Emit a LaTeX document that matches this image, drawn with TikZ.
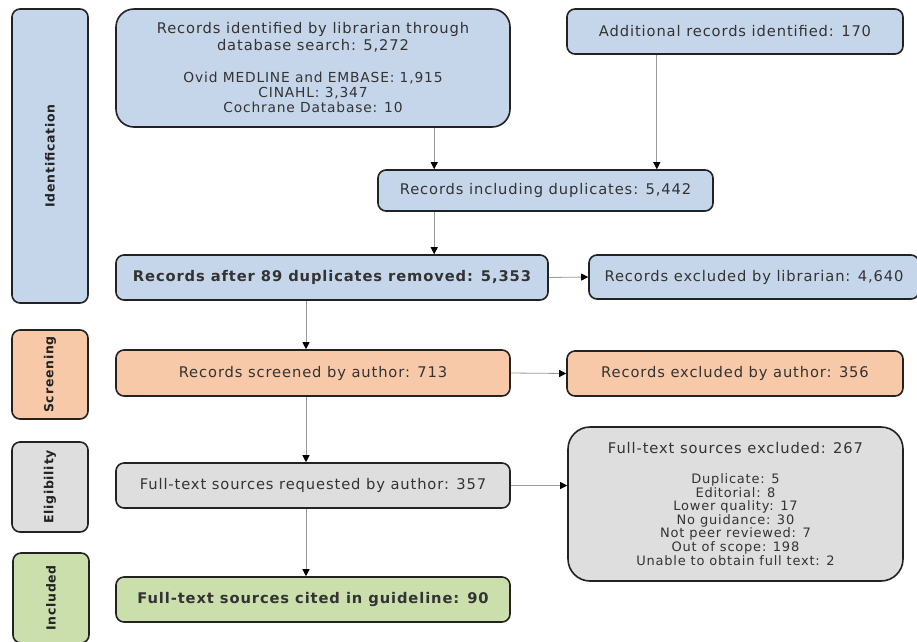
\documentclass[tikz,border=0pt]{standalone}
\usepackage{fontspec}
\setmainfont[LetterSpace=6]{DejaVu Sans}
\usetikzlibrary{arrows.meta}
\definecolor{idblue}{RGB}{198,214,234}
\definecolor{scrorange}{RGB}{248,201,168}
\definecolor{eligray}{RGB}{222,222,222}
\definecolor{incgreen}{RGB}{202,223,172}
\definecolor{boxline}{RGB}{34,34,34}
\definecolor{boxtext}{RGB}{51,51,51}
\newcommand\subline{\fontsize{13.8}{15}\selectfont}
\begin{document}
\begin{tikzpicture}[x=1pt,y=-1pt,
    box/.style={draw=boxline,line width=1.6pt,rounded corners=8pt,align=center,
      text=boxtext,inner sep=0pt,font=\fontsize{14.7}{17}\selectfont},
    phase/.style={box,rotate=90,minimum height=76pt,text=boxline,
      font=\bfseries\fontsize{12.5}{14}\selectfont},
    arr/.style={draw=black!40,line width=0.8pt,-{Triangle[black,length=7pt,width=7pt]}}]
    \useasboundingbox (0,0) rectangle (917,641);
%    phases
    \node [phase,fill=idblue,minimum width=294pt] (idph) at (50,156) {Identification};
    \node [phase,fill=scrorange,minimum width=89pt] (scrph) at (50,374.5) {Screening};
    \node [phase,fill=eligray,minimum width=90pt] (eliph) at (50,487) {Eligibility};
    \node [phase,fill=incgreen,minimum width=90pt] (incph) at (51,598) {Included};
%    identification
    \node [box,fill=idblue,minimum width=394pt,minimum height=118pt,rounded corners=18pt]
      (recdb) at (313,68) {Records identified by librarian through\\
      database search: 5,272\\[15pt]
      {\subline Ovid MEDLINE and EMBASE: 1,915}\\[-2pt]{\subline CINAHL: 3,347}\\[-2pt]
      {\subline Cochrane Database: 10}};
    \node [box,fill=idblue,minimum width=336pt,minimum height=45pt] (recadd) at (735,31.5)
      {Additional records identified: 170};
    \node [box,fill=idblue,minimum width=335pt,minimum height=41pt] (recdup) at (545.5,190.5)
      {Records including duplicates: 5,442};
    \node [box,fill=idblue,minimum width=432pt,minimum height=45pt] (recrem) at (332,277.5)
      {\bfseries Records after 89 duplicates removed: 5,353};
    \node [box,fill=idblue,minimum width=330pt,minimum height=44pt] (exlib) at (754,277)
      {Records excluded by librarian: 4,640};
%    screening
    \node [box,fill=scrorange,minimum width=394pt,minimum height=46pt] (scr) at (313,373)
      {Records screened by author: 713};
    \node [box,fill=scrorange,minimum width=336pt,minimum height=45pt] (exaut) at (735,373.5)
      {Records excluded by author: 356};
%    eligibility
    \node [box,fill=eligray,minimum width=394pt,minimum height=45pt] (req) at (313,485.5)
      {Full-text sources requested by author: 357};
    \node [box,fill=eligray,minimum width=335pt,minimum height=154pt,rounded corners=22pt,
      font=\fontsize{13}{13.6}\selectfont] (exft) at (735.5,504)
      {{\fontsize{14.7}{17}\selectfont Full-text sources excluded: 267}\\[16pt]
      Duplicate: 5\\Editorial: 8\\Lower quality: 17\\No guidance: 30\\
      Not peer reviewed: 7\\Out of scope: 198\\Unable to obtain full text: 2};
%    included
    \node [box,fill=incgreen,minimum width=394pt,minimum height=45pt] (cite) at (313,599.5)
      {\bfseries Full-text sources cited in guideline: 90};
%    arrows
    \coordinate (dupl) at ([xshift=57pt]recdup.north west);
    \coordinate (dupr) at ([xshift=-57pt]recdup.north east);
    \coordinate (spine) at (306,0);
    \draw [arr] (recdb.south -| dupl) -- (dupl);
    \draw [arr] (recadd.south -| dupr) -- (dupr);
    \draw [arr] (recdup.south -| dupl) -- (recrem.north -| dupl);
    \draw [arr] (recrem.east) -- (exlib.west);
    \draw [arr] (recrem.south -| spine) -- (scr.north -| spine);
    \draw [arr] (scr.east) -- (exaut.west);
    \draw [arr] (scr.south -| spine) -- (req.north -| spine);
    \draw [arr] (req.east) -- (req.east -| exft.west);
    \draw [arr] (req.south -| spine) -- (cite.north -| spine);
  \end{tikzpicture}
\end{document}
